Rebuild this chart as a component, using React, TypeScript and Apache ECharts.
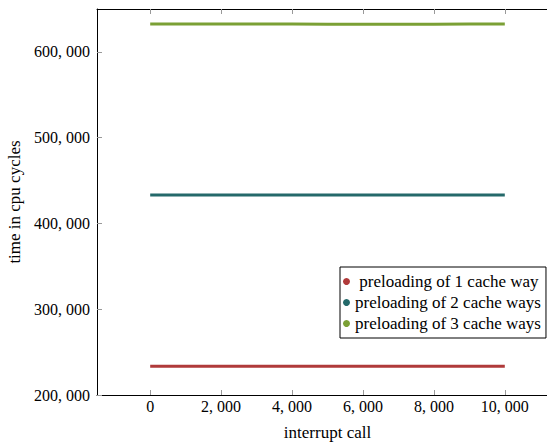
import React, { useEffect, useRef } from "react";
import * as echarts from "echarts";

// Interrupt call index (sampled along the run)
const calls = [0, 1000, 2000, 3000, 4000, 5000, 6000, 7000, 8000, 9000, 10000];

// Handler runtime in cpu cycles
const oneWay = [233600, 233500, 233500, 233400, 233500, 233500, 233400, 233500, 233500, 233400, 233500];
const twoWays = [433300, 433200, 433300, 433200, 433200, 433300, 433200, 433200, 433300, 433200, 433300];
const threeWays = [632600, 632500, 632500, 632400, 632400, 632300, 632300, 632200, 632300, 632400, 632400];

const seriesNames = [
  " preloading of 1 cache way",
  "preloading of 2 cache ways",
  "preloading of 3 cache ways",
];
const seriesColors = ["#B03A3A", "#24696A", "#7BA035"];

const xTicks = [0, 2000, 4000, 6000, 8000, 10000];
const yTicks = [200000, 300000, 400000, 500000, 600000];

const FONT = "'Liberation Serif', 'DejaVu Serif', serif";

const fmt = (v: number) => {
  const s = Math.round(v).toString();
  if (s.length <= 3) return s;
  return s.slice(0, s.length - 3) + ", " + s.slice(s.length - 3);
};

export default function App() {
  const ref = useRef<HTMLDivElement>(null);

  useEffect(() => {
    if (!ref.current) return;
    const chart = echarts.init(ref.current, undefined, { renderer: "svg" });
    const values = [oneWay, twoWays, threeWays];

    const tickStyle = { show: true, inside: true, length: 5, lineStyle: { color: "#999", width: 1 } };

    chart.setOption({
      animation: false,
      backgroundColor: "#fff",
      grid: { left: 97, top: 9, width: 461, height: 386, outerBoundsMode: "none", containLabel: false },
      legend: {
        orient: "vertical",
        left: 340,
        top: 267,
        data: seriesNames,
        icon: "circle",
        itemWidth: 7,
        itemHeight: 7,
        itemGap: 4,
        padding: [6, 5, 6, 3],
        backgroundColor: "#fff",
        borderColor: "#000",
        borderWidth: 1,
        borderRadius: 0,
        textStyle: { fontFamily: FONT, fontSize: 17, color: "#000" },
      },
      xAxis: [
        {
          type: "value",
          min: -1500,
          max: 11500,
          position: "bottom",
          name: "interrupt call",
          nameLocation: "middle",
          nameGap: 29,
          nameTextStyle: { fontFamily: FONT, fontSize: 17, color: "#000" },
          axisLine: { show: true, onZero: false, lineStyle: { color: "#000", width: 1 } },
          axisTick: { ...tickStyle, customValues: xTicks },
          axisLabel: {
            customValues: xTicks,
            formatter: (v: number) => fmt(v),
            fontFamily: FONT,
            fontSize: 16,
            color: "#000",
            margin: 3,
          },
          splitLine: { show: false },
        },
        {
          type: "value",
          min: -1500,
          max: 11500,
          position: "top",
          axisLine: { show: true, onZero: false, lineStyle: { color: "#000", width: 1 } },
          axisTick: { ...tickStyle, customValues: xTicks },
          axisLabel: { show: false },
          splitLine: { show: false },
        },
      ],
      yAxis: {
        type: "value",
        min: 200000,
        max: 650000,
        name: "time in cpu cycles",
        nameLocation: "middle",
        nameGap: 68,
        nameTextStyle: { fontFamily: FONT, fontSize: 17, color: "#000" },
        axisLine: { show: true, onZero: false, lineStyle: { color: "#000", width: 1 } },
        axisTick: { ...tickStyle, customValues: yTicks },
        axisLabel: {
          customValues: yTicks,
          formatter: (v: number) => fmt(v),
          fontFamily: FONT,
          fontSize: 16,
          color: "#000",
          margin: 7,
        },
        splitLine: { show: false },
      },
      series: seriesNames.map((name, i) => ({
        name,
        type: "line",
        xAxisIndex: 0,
        data: calls.map((c, j) => [c, values[i][j]]),
        showSymbol: false,
        symbol: "circle",
        color: seriesColors[i],
        lineStyle: { color: seriesColors[i], width: 3 },
      })),
    });

    return () => chart.dispose();
  }, []);

  return <div ref={ref} style={{ width: 547, height: 445, position: "absolute", left: 0, top: 0 }} />;
}
